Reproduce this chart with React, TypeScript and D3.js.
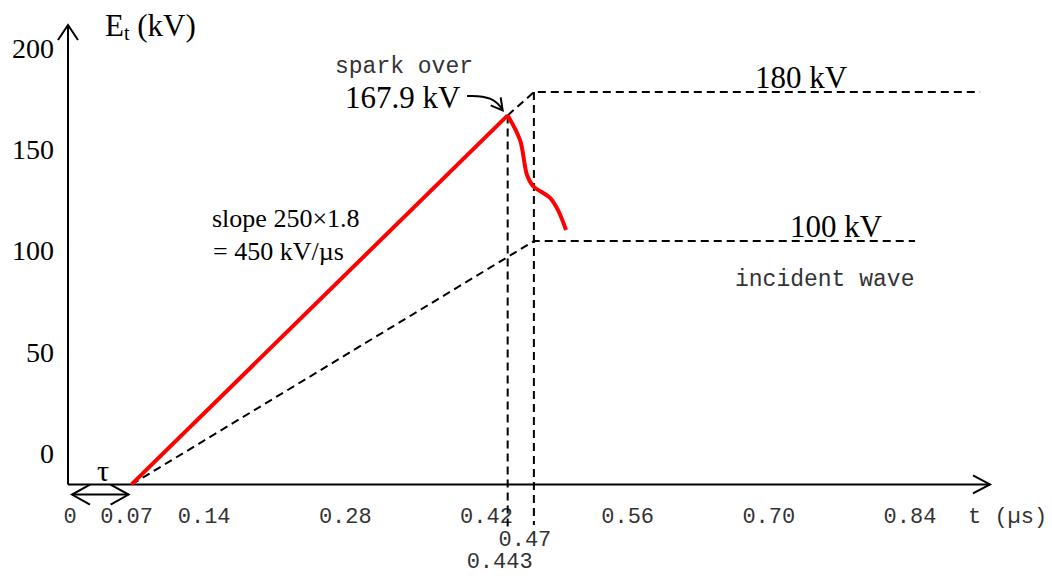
import * as d3 from "d3";
import { useEffect, useRef } from "react";

// time axis ticks (µs)
const timeTicks = [0, 0.07, 0.14, 0.28, 0.42, 0.56, 0.7, 0.84];
const timeTickLabels = ["0", "0.07", "0.14", "0.28", "0.42", "0.56", "0.70", "0.84"];
// voltage axis ticks (kV)
const voltTicks = [0, 50, 100, 150, 200];

// values: [t in µs, E in kV]
const frontWave: [number, number][] = [[0.068, -15], [0.441, 167]];
const collapse: [number, number][] = [
  [0.441, 167], [0.4532, 154.9], [0.4602, 137.6], [0.4661, 132.2],
  [0.483, 126.3], [0.4909, 120.3], [0.4989, 110.5],
];
const incidentWave: [number, number][] = [[0.068, -15], [0.467, 105], [0.845, 105]];
const fullWave: [number, number][] = [[0.441, 167], [0.467, 178.5], [0.9095, 178.5]];
const sparkTime = 0.441;
const crestTime = 0.467;
const baseVolt = -15;

export default function App() {
  const ref = useRef<SVGSVGElement>(null);

  useEffect(() => {
    if (!ref.current) return;
    document.body.style.margin = "0";
    const svg = d3.select(ref.current);
    svg.selectAll("*").remove();

    const width = 1052, height = 576;
    svg.attr("width", width).attr("height", height);

    const x = d3.scaleLinear().domain([0, 0.84]).range([63, 910]);
    const y = d3.scaleLinear().domain([0, 200]).range([454, 48.5]);

    const serif = "'Liberation Serif', 'Times New Roman', serif";
    const mono = "'Liberation Mono', 'Courier New', monospace";
    const monoFill = "#333";
    const axisX = 68;
    const axisY = y(baseVolt);

    const line = d3.line<[number, number]>()
      .x((d) => x(d[0]))
      .y((d) => y(d[1]));

    // axes
    svg.append("line")
      .attr("x1", axisX).attr("y1", axisY)
      .attr("x2", 990).attr("y2", axisY)
      .attr("stroke", "#000").attr("stroke-width", 2);
    svg.append("path")
      .attr("d", `M973,${axisY - 9}L990,${axisY}L973,${axisY + 9}`)
      .attr("fill", "none").attr("stroke", "#000").attr("stroke-width", 2);

    svg.append("line")
      .attr("x1", axisX).attr("y1", axisY)
      .attr("x2", axisX).attr("y2", 25)
      .attr("stroke", "#000").attr("stroke-width", 2);
    svg.append("path")
      .attr("d", `M${axisX - 10},40L${axisX},25L${axisX + 10},40`)
      .attr("fill", "none").attr("stroke", "#000").attr("stroke-width", 2);

    // y tick labels
    svg.append("g")
      .selectAll("text")
      .data(voltTicks)
      .enter()
      .append("text")
      .attr("x", 54)
      .attr("y", (d) => y(d))
      .attr("dy", "0.33em")
      .attr("text-anchor", "end")
      .attr("font-family", serif)
      .attr("font-size", "28px")
      .text((d) => String(d));

    // x tick labels (first two nudged apart like the original)
    const nudge: Record<number, number> = { 0: 7, 0.07: -7 };
    svg.append("g")
      .selectAll("text")
      .data(timeTicks)
      .enter()
      .append("text")
      .attr("x", (d) => x(d) + (nudge[d] || 0))
      .attr("y", 523)
      .attr("text-anchor", "middle")
      .attr("font-family", mono)
      .attr("font-size", "22px")
      .attr("fill", monoFill)
      .text((d, i) => timeTickLabels[i]);

    svg.append("text")
      .attr("x", 968).attr("y", 523)
      .attr("font-family", mono).attr("font-size", "22px").attr("fill", monoFill)
      .attr("xml:space", "preserve")
      .text("t (µs)");

    // y axis title
    const title = svg.append("text")
      .attr("x", 105).attr("y", 36)
      .attr("font-family", serif).attr("font-size", "31px");
    title.append("tspan").text("E");
    title.append("tspan").attr("font-size", "20px").attr("dy", 4).text("t");
    title.append("tspan").attr("dy", -4).text(" (kV)");

    // dashed construction lines
    const dashed = (sel: d3.Selection<SVGPathElement, unknown, null, undefined>) =>
      sel.attr("fill", "none").attr("stroke", "#000")
        .attr("stroke-width", 2).attr("stroke-dasharray", "8,5");

    svg.append("path").datum(incidentWave).attr("d", line).call(dashed);
    svg.append("path").datum(fullWave).attr("d", line).call(dashed);
    svg.append("path").datum([[sparkTime, 167], [sparkTime, -36]] as [number, number][])
      .attr("d", line).call(dashed);
    svg.append("path").datum([[crestTime, 178.5], [crestTime, -35]] as [number, number][])
      .attr("d", line).call(dashed);

    // red chopped wave
    svg.append("path")
      .datum(frontWave)
      .attr("d", line)
      .attr("fill", "none").attr("stroke", "#ff0000").attr("stroke-width", 4);
    svg.append("path")
      .datum(collapse)
      .attr("d", line.curve(d3.curveCatmullRom.alpha(0.5)))
      .attr("fill", "none").attr("stroke", "#ff0000").attr("stroke-width", 4)
      .attr("stroke-linejoin", "round");
    line.curve(d3.curveLinear);

    // tau double arrow
    const tauY = y(-20);
    const tx0 = 72, tx1 = x(frontWave[0][0]) - 3;
    svg.append("line")
      .attr("x1", tx0).attr("y1", tauY).attr("x2", tx1).attr("y2", tauY)
      .attr("stroke", "#000").attr("stroke-width", 2);
    svg.append("path")
      .attr("d", `M${tx0 + 18},${tauY - 10}L${tx0},${tauY}L${tx0 + 18},${tauY + 10}` +
        `M${tx1 - 18},${tauY - 10}L${tx1},${tauY}L${tx1 - 18},${tauY + 10}`)
      .attr("fill", "none").attr("stroke", "#000").attr("stroke-width", 2);
    svg.append("text")
      .attr("x", 103).attr("y", 481).attr("text-anchor", "middle")
      .attr("font-family", serif).attr("font-size", "30px").text("τ");

    // annotations
    const peakX = x(sparkTime), peakY = y(167);
    svg.append("text")
      .attr("x", 335).attr("y", 73)
      .attr("font-family", mono).attr("font-size", "23px").attr("fill", monoFill)
      .text("spark over");
    svg.append("text")
      .attr("x", 345).attr("y", 108)
      .attr("font-family", serif).attr("font-size", "31px")
      .text("167.9 kV");
    const tipX = peakX - 5, tipY = peakY - 5;
    svg.append("path")
      .attr("d", `M467,96C488,95 497,100 ${tipX},${tipY}`)
      .attr("fill", "none").attr("stroke", "#000").attr("stroke-width", 2);
    svg.append("path")
      .attr("d", `M${tipX - 12},${tipY - 5}L${tipX},${tipY}L${tipX - 2},${tipY - 13}`)
      .attr("fill", "none").attr("stroke", "#000").attr("stroke-width", 2);

    svg.append("text")
      .attr("x", 755).attr("y", 88)
      .attr("font-family", serif).attr("font-size", "31px").text("180 kV");
    svg.append("text")
      .attr("x", 790).attr("y", 237)
      .attr("font-family", serif).attr("font-size", "31px").text("100 kV");
    svg.append("text")
      .attr("x", 735).attr("y", 286)
      .attr("font-family", mono).attr("font-size", "23px").attr("fill", monoFill)
      .text("incident wave");

    svg.append("text")
      .attr("x", 212).attr("y", 227)
      .attr("font-family", serif).attr("font-size", "26px").text("slope 250×1.8");
    svg.append("text")
      .attr("x", 213).attr("y", 260)
      .attr("font-family", serif).attr("font-size", "26px").text("= 450 kV/µs");

    svg.append("text")
      .attr("x", x(crestTime) - 9).attr("y", 546).attr("text-anchor", "middle")
      .attr("font-family", mono).attr("font-size", "22px").attr("fill", monoFill)
      .text("0.47");
    svg.append("text")
      .attr("x", x(sparkTime) - 8).attr("y", 568).attr("text-anchor", "middle")
      .attr("font-family", mono).attr("font-size", "22px").attr("fill", monoFill)
      .text("0.443");
  }, []);

  return <svg ref={ref} />;
}
